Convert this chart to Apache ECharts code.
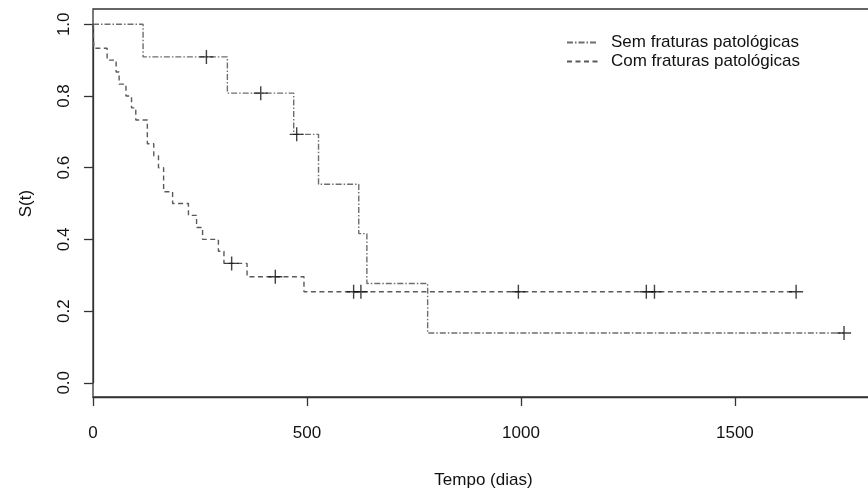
<!DOCTYPE html>
<html>
<head>
<meta charset="utf-8">
<script src="https://cdn.jsdelivr.net/npm/echarts@6/dist/echarts.min.js"></script>
<style>
html, body { margin: 0; padding: 0; background: #fff; }
#chart { width: 868px; height: 490px; }
</style>
</head>
<body>
<div id="chart"></div>
<script>
var seriesNames = ['Sem fraturas patológicas', 'Com fraturas patológicas'];

// Kaplan-Meier steps: time (days) and S(t) after the step
var semTimes = [0, 117, 314, 469, 527, 621, 640, 782, 1755];
var semSurv = [1, 0.909, 0.808, 0.693, 0.554, 0.416, 0.277, 0.139, 0.139];
var semCensorTimes = [265, 392, 476, 1755];
var semCensorSurv = [0.909, 0.808, 0.693, 0.139];

var comTimes = [0, 2, 33, 54, 61, 77, 90, 100, 127, 142, 153, 165, 186, 223, 242, 256, 293, 306, 360, 493, 1643];
var comSurv = [1, 0.933, 0.9, 0.867, 0.833, 0.8, 0.767, 0.733, 0.667, 0.633, 0.6, 0.533, 0.5, 0.467, 0.433, 0.4, 0.367, 0.333, 0.296, 0.254, 0.254];
var comCensorTimes = [324, 426, 609, 626, 994, 1293, 1312, 1643];
var comCensorSurv = [0.333, 0.296, 0.254, 0.254, 0.254, 0.254, 0.254, 0.254];

var xMax = 1825;
var xStep = 500;
var yStep = 0.2;

var font = "'Liberation Sans', Arial, sans-serif";
var plus = 'path://M0,4.5H4.5V0H5.5V4.5H10V5.5H5.5V10H4.5V5.5H0Z';
var frame = { color: '#333', width: 1.3 };
var txt = { fontFamily: font, fontSize: 17, color: '#111' };

function pairs(xs, ys) {
    var out = [];
    for (var i = 0; i < xs.length; i++) {
        out.push([xs[i], ys[i]]);
    }
    return out;
}

var chart = echarts.init(document.getElementById('chart'), null, {renderer: 'canvas'});
var options = {
    animation: false,
    backgroundColor: '#fff',
    textStyle: { fontFamily: font },
    // grid 0 is the R plot box (y padded by 4%), grid 1 holds the 0..1 data range
    grid: [
        {
            left: 93, top: 9, right: -6, bottom: 93,
            outerBoundsMode: 'none', containLabel: false,
            show: true, borderColor: '#333', borderWidth: 1.3, backgroundColor: 'transparent'
        },
        {
            left: 93, top: 24.3, right: -6, bottom: 107.2,
            outerBoundsMode: 'none', containLabel: false
        }
    ],
    legend: {
        data: seriesNames,
        orient: 'vertical',
        left: 561, top: 28,
        itemWidth: 31, itemHeight: 14, itemGap: 0,
        itemStyle: { opacity: 0 },
        textStyle: { fontFamily: font, fontSize: 17, color: '#111', lineHeight: 19, padding: [0, 0, 0, 8] }
    },
    xAxis: [
        {
            gridIndex: 0, type: 'value', min: 0, max: xMax, interval: xStep,
            name: 'Tempo (dias)', nameLocation: 'middle', nameGap: 75,
            nameTextStyle: txt,
            axisLine: { show: true, onZero: false, lineStyle: frame },
            // ticks kept outside the box, as in R
            axisTick: { show: true, inside: true, length: -9, lineStyle: frame },
            axisLabel: {
                margin: 28, fontFamily: font, fontSize: 17, color: '#111',
                showMaxLabel: false,
                formatter: function (v) { return v % xStep === 0 ? String(v) : ''; }
            },
            splitLine: { show: false }
        },
        {
            gridIndex: 1, type: 'value', min: 0, max: xMax, show: false
        }
    ],
    yAxis: [
        {
            gridIndex: 0, type: 'value', min: -0.04, max: 1.04, show: false
        },
        {
            gridIndex: 1, type: 'value', min: 0, max: 1, interval: yStep,
            name: 'S(t)', nameLocation: 'middle', nameGap: 58, nameRotate: 90,
            nameTextStyle: txt,
            axisLine: { show: true, onZero: false, lineStyle: frame },
            axisTick: { show: true, inside: true, length: -9, lineStyle: frame },
            axisLabel: {
                rotate: 90, margin: 20,
                fontFamily: font, fontSize: 17, color: '#111',
                formatter: function (v) { return v.toFixed(1); }
            },
            splitLine: { show: false }
        }
    ],
    series: [
        {
            name: seriesNames[0], type: 'line', step: 'end', symbol: 'none',
            xAxisIndex: 1, yAxisIndex: 1, clip: false,
            lineStyle: { color: '#6e6e6e', width: 1.4, type: [6, 2, 1.5, 2] },
            itemStyle: { color: '#6e6e6e' },
            data: pairs(semTimes, semSurv), z: 3
        },
        {
            name: seriesNames[1], type: 'line', step: 'end', symbol: 'none',
            xAxisIndex: 1, yAxisIndex: 1, clip: false,
            lineStyle: { color: '#5a5a5a', width: 1.4, type: [5, 3.5] },
            itemStyle: { color: '#5a5a5a' },
            data: pairs(comTimes, comSurv), z: 3
        },
        {
            name: 'censor1', type: 'scatter', symbol: plus, symbolSize: 14,
            xAxisIndex: 1, yAxisIndex: 1, clip: false,
            itemStyle: { color: '#111' }, data: pairs(semCensorTimes, semCensorSurv), z: 4
        },
        {
            name: 'censor2', type: 'scatter', symbol: plus, symbolSize: 14,
            xAxisIndex: 1, yAxisIndex: 1, clip: false,
            itemStyle: { color: '#111' }, data: pairs(comCensorTimes, comCensorSurv), z: 4
        }
    ]
};
chart.setOption(options);
</script>
</body>
</html>
